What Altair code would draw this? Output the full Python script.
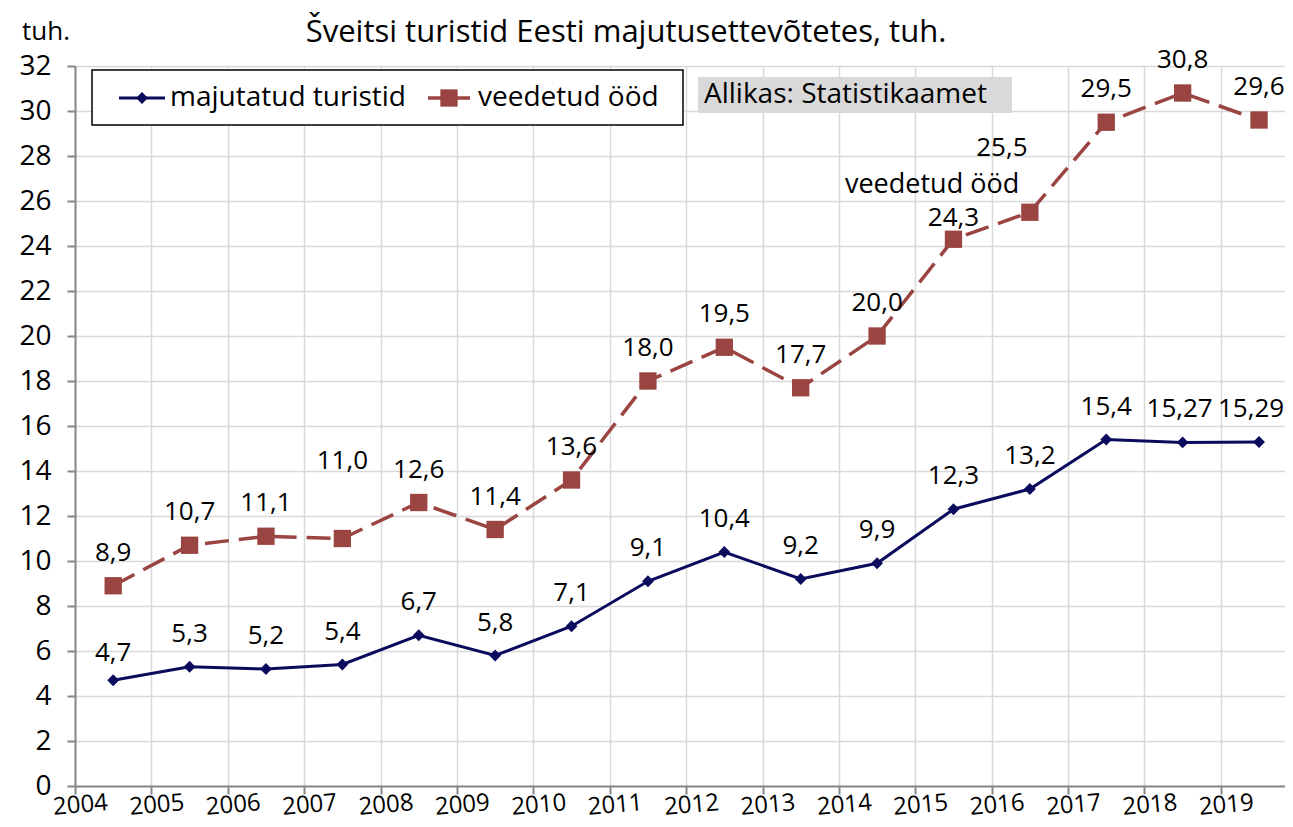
import altair as alt
import pandas as pd

years = list(range(2004, 2020))
tourists = [4.7, 5.3, 5.2, 5.4, 6.7, 5.8, 7.1, 9.1, 10.4, 9.2, 9.9, 12.3, 13.2, 15.4, 15.27, 15.29]
nights = [8.9, 10.7, 11.1, 11.0, 12.6, 11.4, 13.6, 18.0, 19.5, 17.7, 20.0, 24.3, 25.5, 29.5, 30.8, 29.6]
series_names = ["majutatud turistid", "veedetud ööd"]
y_ticks = list(range(0, 33, 2))
title_text = "Šveitsi turistid Eesti majutusettevõtetes, tuh."
unit_text = "tuh."
source_text = "Allikas: Statistikaamet"
annotation_text = "veedetud ööd"

FONT = "Open Sans"
NAVY = "#0b0b5e"
BROWN = "#9a4541"
GRID = "#d9d9d9"
AXIS = "#878787"
FS = 26

rows = []
for yr, t, n in zip(years, tourists, nights):
    rows.append({"year": yr, "x": yr + 0.5, "value": t, "series": series_names[0],
                 "label": str(t).replace(".", ",")})
    rows.append({"year": yr, "x": yr + 0.5, "value": n, "series": series_names[1],
                 "label": str(n).replace(".", ",")})
df = pd.DataFrame(rows)

xs = alt.Scale(domain=[2004, 2019.84], nice=False, zero=False)
ys = alt.Scale(domain=[0, 32], nice=False)

X = alt.X("x:Q", scale=xs, title=None,
          axis=alt.Axis(values=years, format="d", labelAngle=-5, labelAlign="center",
                        labelFontSize=24, labelPadding=-1, labelBaseline="top", labelOffset=4))
Y = alt.Y("value:Q", scale=ys, title=None,
          axis=alt.Axis(values=y_ticks, labelFontSize=28, labelPadding=16))

base = alt.Chart(df)
t_sel = alt.datum.series == series_names[0]
n_sel = alt.datum.series == series_names[1]

t_line = base.transform_filter(t_sel).mark_line(color=NAVY, strokeWidth=3).encode(x=X, y=Y)
t_pts = base.transform_filter(t_sel).mark_point(shape="diamond", filled=True, size=140,
                                                color=NAVY, opacity=1).encode(x=X, y=Y)
n_line = base.transform_filter(n_sel).mark_line(color=BROWN, strokeWidth=3.5,
                                                strokeDash=[24, 10]).encode(x=X, y=Y)
n_pts = base.transform_filter(n_sel).mark_square(size=300, color=BROWN, opacity=1).encode(x=X, y=Y)

# label nudges (dx, dy) for a few labels; all others sit straight above their point
nudges = {
    (series_names[1], 2007): (0, -78),
    (series_names[1], 2015): (0, -21),
    (series_names[1], 2016): (-28, -64),
    (series_names[0], 2004): (0, -27),
    (series_names[0], 2018): (-3, -33),
    (series_names[0], 2019): (-8, -33),
}
DEFAULT_DY = -33

txt = dict(font=FONT, fontSize=FS, color="black", baseline="middle", align="center")

not_nudged = alt.datum.year > 0
for (s, yr) in nudges:
    not_nudged = not_nudged & ~((alt.datum.series == s) & (alt.datum.year == yr))
label_layers = [base.transform_filter(not_nudged).mark_text(dy=DEFAULT_DY, **txt).encode(
    x=X, y=Y, text="label:N")]
for (s, yr), (ddx, ddy) in nudges.items():
    cond = (alt.datum.series == s) & (alt.datum.year == yr)
    label_layers.append(base.transform_filter(cond).mark_text(dx=ddx, dy=ddy, **txt).encode(
        x=X, y=Y, text="label:N"))

one = pd.DataFrame({"k": [0]})
ann_df = pd.DataFrame({"x": [2015.22], "value": [26.7], "t": [annotation_text]})
annotation = alt.Chart(ann_df).mark_text(font=FONT, fontSize=27, color="black",
                                         baseline="middle", align="center").encode(
    x=X, y=Y, text="t:N")

title = alt.Chart(one).mark_text(font=FONT, fontSize=31, color="black", align="center",
                                 baseline="middle").encode(
    x=alt.value(551), y=alt.value(-33), text=alt.value(title_text))
unit = alt.Chart(one).mark_text(font=FONT, fontSize=26, color="black", align="left",
                                baseline="middle").encode(
    x=alt.value(-53), y=alt.value(-34), text=alt.value(unit_text))

# Legend (drawn manually)
LFS = 28
leg_box = alt.Chart(one).mark_rect(fill="white", stroke="black", strokeWidth=1.5).encode(
    x=alt.value(17), x2=alt.value(608), y=alt.value(4), y2=alt.value(59))
leg_l1 = alt.Chart(one).mark_rule(color=NAVY, strokeWidth=3).encode(
    x=alt.value(44), x2=alt.value(90), y=alt.value(32))
leg_p1 = alt.Chart(one).mark_point(shape="diamond", filled=True, size=140, color=NAVY,
                                   opacity=1).encode(x=alt.value(67), y=alt.value(32))
leg_t1 = alt.Chart(one).mark_text(font=FONT, fontSize=LFS, color="black", align="left",
                                  baseline="middle").encode(
    x=alt.value(95), y=alt.value(32), text=alt.value(series_names[0]))
leg_l2 = alt.Chart(one).mark_rule(color=BROWN, strokeWidth=3.5).encode(
    x=alt.value(353), x2=alt.value(395), y=alt.value(32))
leg_p2 = alt.Chart(one).mark_square(size=300, color=BROWN, opacity=1).encode(
    x=alt.value(374), y=alt.value(32))
leg_t2 = alt.Chart(one).mark_text(font=FONT, fontSize=LFS, color="black", align="left",
                                  baseline="middle").encode(
    x=alt.value(403), y=alt.value(32), text=alt.value(series_names[1]))

src_box = alt.Chart(one).mark_rect(fill="#d9d9d9").encode(
    x=alt.value(623), x2=alt.value(937), y=alt.value(11), y2=alt.value(47))
src_txt = alt.Chart(one).mark_text(font=FONT, fontSize=LFS, color="black", align="left",
                                   baseline="middle").encode(
    x=alt.value(629), y=alt.value(29), text=alt.value(source_text))

chart = alt.layer(
    t_line, t_pts, n_line, n_pts, *label_layers, annotation,
    title, unit, leg_box, leg_l1, leg_p1, leg_t1, leg_l2, leg_p2, leg_t2, src_box, src_txt
).properties(
    width=1210, height=720,
    autosize=alt.AutoSizeParams(type="none"),
    padding={"left": 67, "top": 58, "right": 0, "bottom": 33},
    background="white",
).configure_view(strokeWidth=0).configure_axis(
    domainColor=AXIS, domainWidth=2, tickColor=AXIS, tickWidth=2, tickSize=8,
    gridColor=GRID, gridWidth=1.5, labelFont=FONT, labelColor="black",
)

chart.save("out.html", embed_options={"renderer": "svg", "actions": False})
